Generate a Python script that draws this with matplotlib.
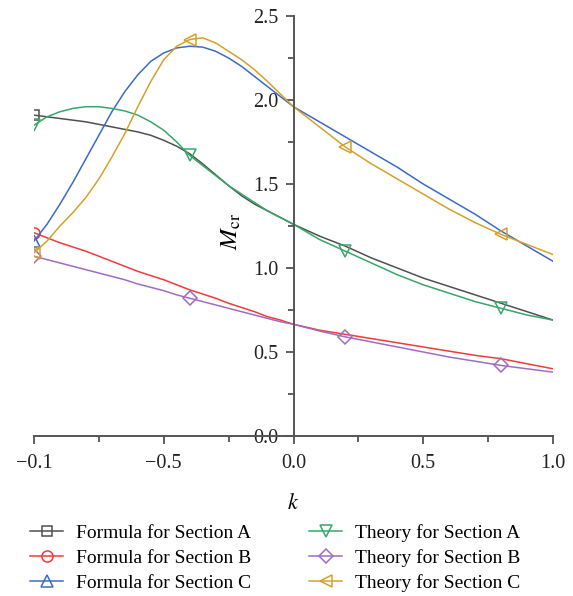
import numpy as np
import matplotlib
matplotlib.use("Agg")
import matplotlib.pyplot as plt
from matplotlib.ticker import MultipleLocator, FormatStrFormatter

plt.rcParams['font.family'] = ['Liberation Serif', 'DejaVu Serif']
plt.rcParams['mathtext.fontset'] = 'stix'

# k values (x axis): finer on the left half where the curves bend
k = [-1.0, -0.95, -0.9, -0.85, -0.8, -0.75, -0.7, -0.65, -0.6, -0.55, -0.5,
     -0.45, -0.4, -0.35, -0.3, -0.25, -0.2, -0.15, -0.1, -0.05, 0.0,
     0.1, 0.2, 0.3, 0.4, 0.5, 0.6, 0.7, 0.8, 0.9, 1.0]

formula_a = [1.91, 1.90, 1.89, 1.88, 1.87, 1.855, 1.84, 1.825, 1.81, 1.79, 1.76,
             1.725, 1.68, 1.62, 1.555, 1.49, 1.43, 1.38, 1.34, 1.30, 1.26,
             1.19, 1.13, 1.06, 1.00, 0.94, 0.89, 0.84, 0.79, 0.74, 0.69]
formula_b = [1.21, 1.18, 1.15, 1.125, 1.10, 1.07, 1.04, 1.01, 0.98, 0.955, 0.93,
             0.90, 0.87, 0.845, 0.82, 0.79, 0.765, 0.74, 0.71, 0.69, 0.665,
             0.63, 0.605, 0.58, 0.555, 0.53, 0.505, 0.48, 0.46, 0.43, 0.40]
formula_c = [1.16, 1.26, 1.38, 1.51, 1.65, 1.79, 1.93, 2.05, 2.15, 2.23, 2.28,
             2.31, 2.32, 2.315, 2.29, 2.25, 2.20, 2.14, 2.08, 2.02, 1.96,
             1.87, 1.78, 1.69, 1.60, 1.50, 1.41, 1.32, 1.22, 1.13, 1.04]
theory_a = [1.85, 1.90, 1.93, 1.95, 1.96, 1.96, 1.95, 1.935, 1.91, 1.87, 1.82,
            1.75, 1.67, 1.61, 1.55, 1.49, 1.44, 1.39, 1.34, 1.30, 1.26,
            1.17, 1.10, 1.03, 0.96, 0.90, 0.85, 0.80, 0.76, 0.72, 0.69]
theory_b = [1.07, 1.05, 1.03, 1.01, 0.99, 0.97, 0.95, 0.93, 0.905, 0.885, 0.865,
            0.84, 0.82, 0.80, 0.78, 0.76, 0.74, 0.72, 0.70, 0.68, 0.665,
            0.625, 0.59, 0.56, 0.53, 0.50, 0.47, 0.445, 0.42, 0.40, 0.38]
theory_c = [1.09, 1.16, 1.25, 1.33, 1.42, 1.53, 1.66, 1.80, 1.96, 2.11, 2.24,
            2.32, 2.36, 2.37, 2.34, 2.29, 2.24, 2.18, 2.11, 2.035, 1.96,
            1.84, 1.72, 1.62, 1.53, 1.44, 1.35, 1.27, 1.20, 1.14, 1.08]

xtick_vals = [-1.0, -0.5, 0.0, 0.5, 1.0]
xtick_labels = ['\u22120.1', '\u22120.5', '0.0', '0.5', '1.0']

labels = ['Formula for Section A', 'Formula for Section B', 'Formula for Section C',
          'Theory for Section A', 'Theory for Section B', 'Theory for Section C']

fig = plt.figure(figsize=(5.73, 5.96), dpi=100)
ax = fig.add_axes([34/573, 160/596, 519/573, 420/596])

# theory markers at k = -1, -0.4, 0.2, 0.8; formula only at k = -1
theory_marks = [0, 12, 22, 28]
series = [
    (formula_a, '#505050', 's', 7, [0]),
    (formula_b, '#f23a3a', 'o', 8, [0]),
    (formula_c, '#3a6cc6', '^', 8, [0]),
    (theory_a, '#36a86a', 'v', 9, theory_marks),
    (theory_b, '#a06cc0', 'D', 7, theory_marks),
    (theory_c, '#d6a12a', '<', 9, theory_marks),
]
handles = []
for (vals, col, mk, ms, mev), lab in zip(series, labels):
    h, = ax.plot(k, vals, color=col, lw=1.1, marker=mk, ms=ms, mfc='none',
                 mec=col, mew=1.1, markevery=mev, label=lab)
    handles.append(h)

ax.set_xlim(-1.0, 1.0)
ax.set_ylim(0.0, 2.5)

for s in ['top', 'right']:
    ax.spines[s].set_visible(False)
ax.spines['left'].set_position(('data', 0.0))
for s in ['left', 'bottom']:
    ax.spines[s].set_color('#555555')
    ax.spines[s].set_linewidth(1.4)

ax.set_xticks(xtick_vals)
ax.set_xticklabels(xtick_labels)
ax.xaxis.set_minor_locator(MultipleLocator(0.25))
ax.yaxis.set_major_locator(MultipleLocator(0.5))
ax.yaxis.set_minor_locator(MultipleLocator(0.25))
ax.yaxis.set_major_formatter(FormatStrFormatter('%.1f'))
ax.tick_params(which='major', direction='out', length=6, width=1.2,
               color='#444444', labelsize=14.5, labelcolor='#222222')
ax.tick_params(which='minor', direction='out', length=4, width=1.2, color='#444444')
ax.tick_params(axis='x', pad=7)
ax.tick_params(axis='y', pad=5)

ax.set_xlabel('$k$', fontsize=16, labelpad=15)
ax.set_ylabel('$M_{\\rm cr}$', fontsize=18)
ax.yaxis.set_label_coords(0.403, 0.486)

fig.legend(handles=handles, loc='upper left', bbox_to_anchor=(0.022, 0.15),
           ncol=2, frameon=False, fontsize=14, handlelength=1.7,
           columnspacing=3.0, labelspacing=0.37, handletextpad=0.65,
           numpoints=1)

fig.savefig('out.png', dpi=100)
